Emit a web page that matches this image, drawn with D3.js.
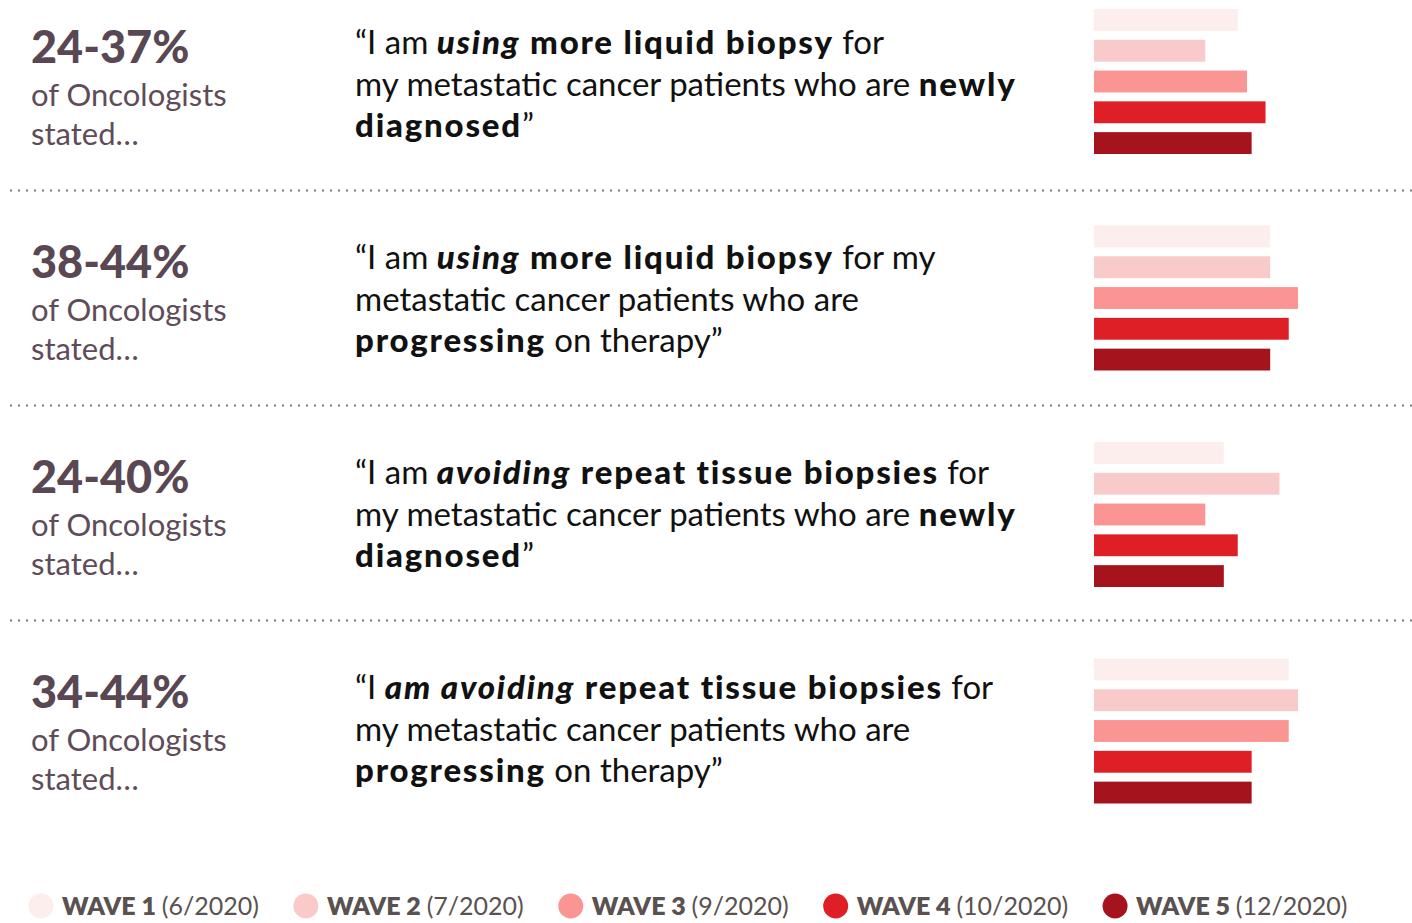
<!DOCTYPE html>
<html>
<head>
<meta charset="utf-8">
<script src="https://cdn.jsdelivr.net/npm/d3@7"></script>
<style>
  body { margin: 0; background: #fff; }
  svg { display: block; font-family: Lato, "Noto Sans", sans-serif; }
</style>
</head>
<body>
<svg id="chart"></svg>
<script>
// ranges shown on the left of each row
const ranges = ["24-37%", "38-44%", "24-40%", "34-44%"];

// quotes, one entry per line, segments are [text, style]  (n = normal, b = bold, bi = bold italic)
const quotes = [
  [
    [["\u201CI am ", "n"], ["using", "bi"], [" more liquid biopsy", "b"], [" for", "n"]],
    [["my metastatic cancer patients who are ", "n"], ["newly", "b"]],
    [["diagnosed", "b"], ["\u201D", "n"]]
  ],
  [
    [["\u201CI am ", "n"], ["using", "bi"], [" more liquid biopsy", "b"], [" for my", "n"]],
    [["metastatic cancer patients who are", "n"]],
    [["progressing", "b"], [" on therapy\u201D", "n"]]
  ],
  [
    [["\u201CI am ", "n"], ["avoiding", "bi"], [" repeat tissue biopsies", "b"], [" for", "n"]],
    [["my metastatic cancer patients who are ", "n"], ["newly", "b"]],
    [["diagnosed", "b"], ["\u201D", "n"]]
  ],
  [
    [["\u201CI ", "n"], ["am avoiding", "bi"], [" repeat tissue biopsies", "b"], [" for", "n"]],
    [["my metastatic cancer patients who are", "n"]],
    [["progressing", "b"], [" on therapy\u201D", "n"]]
  ]
];

// legend
const waves = ["WAVE 1", "WAVE 2", "WAVE 3", "WAVE 4", "WAVE 5"];
const waveDates = ["(6/2020)", "(7/2020)", "(9/2020)", "(10/2020)", "(12/2020)"];
const waveColors = ["#fdeeee", "#f8caca", "#fb9593", "#de1f26", "#a5141d"];

// % of oncologists per wave, one value per row
const wave1 = [31, 38, 28, 42];
const wave2 = [24, 38, 40, 44];
const wave3 = [33, 44, 24, 42];
const wave4 = [37, 42, 31, 34];
const wave5 = [34, 38, 28, 34];
const waveValues = [wave1, wave2, wave3, wave4, wave5];

const W = 1412, H = 923;
const svg = d3.select("#chart").attr("width", W).attr("height", H);

// rows
const rowIdx = d3.range(ranges.length);
const rowY = d3.scaleLinear().domain([0, 1]).range([0, 215]);      // text rows
const barRowY = d3.scaleLinear().domain([0, 1]).range([9, 225.5]); // bar groups

// bars
const x = d3.scaleLinear().domain([0, 44]).range([1094, 1298]);
const barY = d3.scaleBand().domain(d3.range(waves.length)).range([0, 145]).paddingInner(0.29);

// dotted separators
svg.append("g")
  .selectAll("line")
  .data(rowIdx.slice(1))
  .join("line")
  .attr("x1", 10)
  .attr("x2", W)
  .attr("y1", d => rowY(d) - 24.5)
  .attr("y2", d => rowY(d) - 24.5)
  .attr("stroke", "#7a7a7a")
  .attr("stroke-width", 2)
  .attr("stroke-dasharray", "2,6");

let rows = svg.append("g")
  .selectAll("g")
  .data(rowIdx)
  .join("g");

// left: range + label
rows.append("text")
  .attr("x", 31)
  .attr("y", d => rowY(d) + 63)
  .style("font-size", "45px")
  .style("font-weight", 900)
  .style("fill", "#5a4754")
  .text(d => ranges[d]);

rows.append("text")
  .attr("x", 31)
  .attr("y", d => rowY(d) + 106)
  .style("font-size", "31px")
  .style("fill", "#5e4c59")
  .text("of Oncologists");

rows.append("text")
  .attr("x", 31)
  .attr("y", d => rowY(d) + 145)
  .style("font-size", "31px")
  .style("fill", "#5e4c59")
  .text("stated\u2026");

// middle: quote
rows.each(function(r) {
  let g = d3.select(this);
  quotes[r].forEach((line, i) => {
    let t = g.append("text")
      .attr("x", 355)
      .attr("y", rowY(r) + 54 + i * 41.5)
      .style("font-size", "33px")
      .style("fill", "#111");
    t.selectAll("tspan")
      .data(line)
      .join("tspan")
      .style("font-weight", s => s[1] == "n" ? 400 : 900)
      .style("font-style", s => s[1] == "bi" ? "italic" : "normal")
      .style("letter-spacing", s => s[1] == "n" ? "0px" : "1.8px")
      .attr("xml:space", "preserve")
      .text(s => s[0]);
  });
});

// right: bars
rows.each(function(r) {
  d3.select(this).append("g")
    .selectAll("rect")
    .data(waves.map((w, i) => ({ wave: i, value: waveValues[i][r] })))
    .join("rect")
    .attr("x", x(0))
    .attr("y", d => barRowY(r) + barY(d.wave))
    .attr("width", d => x(d.value) - x(0))
    .attr("height", barY.bandwidth())
    .style("fill", d => waveColors[d.wave]);
});

// legend
let legend = svg.append("g").attr("transform", "translate(0, 906)");
let lx = 29;
waves.forEach((w, i) => {
  let item = legend.append("g").attr("transform", `translate(${lx}, 0)`);
  item.append("circle")
    .attr("cx", 12)
    .attr("cy", 0)
    .attr("r", 12.5)
    .style("fill", waveColors[i]);
  let t = item.append("text")
    .attr("x", 33)
    .attr("y", 9)
    .style("font-size", "25px")
    .style("fill", "#5a5250");
  t.append("tspan").style("font-weight", 800).text(w + " ");
  t.append("tspan").style("font-weight", 400).text(waveDates[i]);
  lx += 33 + t.node().getComputedTextLength() + 35;
});
</script>
</body>
</html>
